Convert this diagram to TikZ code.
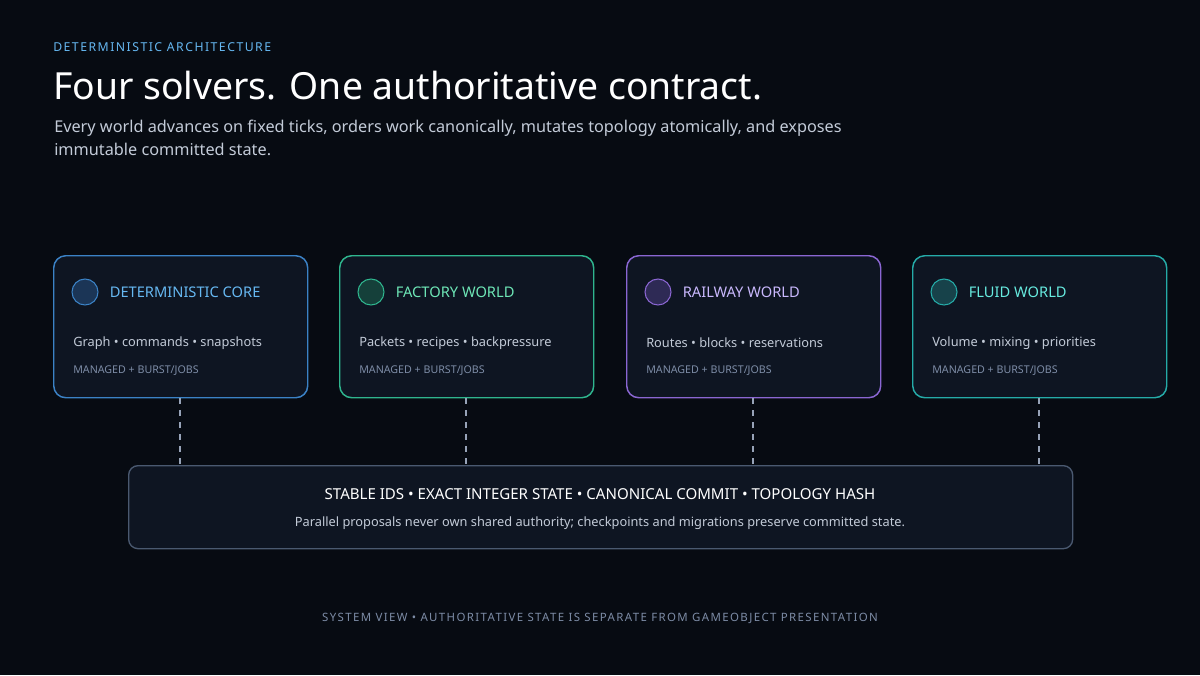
\documentclass[tikz,border=0pt]{standalone}
\usepackage{fontspec}
\setmainfont{Noto Sans}
\usetikzlibrary{positioning}
\definecolor{bgdark}{HTML}{070B12}
\definecolor{cardfill}{HTML}{0E1522}
\definecolor{coreline}{HTML}{3B82C6}
\definecolor{coretext}{HTML}{66B8F2}
\definecolor{corefill}{HTML}{1B3556}
\definecolor{factline}{HTML}{2FB58E}
\definecolor{facttext}{HTML}{6EE7B7}
\definecolor{factfill}{HTML}{15403A}
\definecolor{railline}{HTML}{8A66D2}
\definecolor{railtext}{HTML}{C9B8FD}
\definecolor{railfill}{HTML}{2E2A55}
\definecolor{fluidline}{HTML}{25ABA8}
\definecolor{fluidtext}{HTML}{67EBE0}
\definecolor{fluidfill}{HTML}{17424A}
\definecolor{bodytext}{HTML}{C3CBD8}
\definecolor{mutedtext}{HTML}{7D8CA6}
\definecolor{barline}{HTML}{4A5970}
\newcommand{\spaced}{\addfontfeatures{LetterSpace=12}}
\begin{document}
\begin{tikzpicture}[x=0.75pt,y=-0.75pt,
    card/.style={draw, line width=1.1pt, fill=cardfill, rounded corners=9pt,
      minimum width=254*0.75pt, minimum height=142*0.75pt, anchor=north west},
    dot/.style={circle, draw, line width=0.8pt, minimum size=26*0.75pt, inner sep=0pt},
    cardtitle/.style={anchor=west, font=\bfseries\fontsize{11}{13}\selectfont, inner sep=0pt},
    cardbody/.style={anchor=west, text=bodytext, font=\fontsize{9.6}{12}\selectfont, inner sep=0pt},
    cardtag/.style={anchor=west, text=mutedtext, font=\bfseries\fontsize{8}{10}\selectfont, inner sep=0pt},
    link/.style={draw=mutedtext!80, line width=1.3pt, dash pattern=on 4.5pt off 4.5pt}
]
\fill[bgdark] (0,0) rectangle (1200,675);
\useasboundingbox (0,0) rectangle (1200,675);

% Heading
\node[anchor=west, inner sep=0pt, text=coretext, font=\bfseries\fontsize{9.2}{11}\selectfont\spaced] (kicker) at (53,47) {DETERMINISTIC ARCHITECTURE};
\node[anchor=west, inner sep=0pt, text=white, font=\bfseries\fontsize{28}{32}\selectfont] (title) at (53,86) {Four solvers. One authoritative contract.};
\node[anchor=north west, inner sep=0pt, text=bodytext, align=left, font=\fontsize{12.2}{17.3}\selectfont] (lead) at (54,120)
  {Every world advances on fixed ticks, orders work canonically, mutates topology atomically, and exposes\\immutable committed state.};

% Solver cards
\foreach \x/\name/\ttl/\body/\clr in {
    53/core/DETERMINISTIC CORE/Graph • commands • snapshots/core,
    339/factory/FACTORY WORLD/Packets • recipes • backpressure/fact,
    626/railway/RAILWAY WORLD/Routes • blocks • reservations/rail,
    912/fluid/FLUID WORLD/Volume • mixing • priorities/fluid} {
  \node[card, draw=\clr line] (\name) at (\x,255) {};
  \node[dot, draw=\clr line, fill=\clr fill] (\name-dot) at (\x+32,292) {};
  \node[cardtitle, text=\clr text, right=11*0.75pt of \name-dot] (\name-title) {\ttl};
  \node[cardbody] (\name-body) at (\x+20,343) {\body};
  \node[cardtag] (\name-tag) at (\x+20,371) {MANAGED + BURST/JOBS};
}

% Shared contract bar
\node[draw=barline, line width=1pt, fill=cardfill, rounded corners=7pt, anchor=north west,
  minimum width=944*0.75pt, minimum height=83*0.75pt] (contract) at (128,465) {};
\node[text=white, inner sep=0pt, font=\bfseries\fontsize{11.3}{13}\selectfont] (contract-title) at (600,494)
  {STABLE IDS • EXACT INTEGER STATE • CANONICAL COMMIT • TOPOLOGY HASH};
\node[text=bodytext, inner sep=0pt, font=\fontsize{9.6}{12}\selectfont] (contract-body) at (600,523)
  {Parallel proposals never own shared authority; checkpoints and migrations preserve committed state.};

% Links
\foreach \name/\x in {core/180, factory/466, railway/753, fluid/1039}
  \draw[link] (\name.south -| \x,0) -- (contract.north -| \x,0);

% Footer
\node[text=mutedtext, inner sep=0pt, font=\bfseries\fontsize{8.6}{10}\selectfont\spaced] (footer) at (600,618)
  {SYSTEM VIEW • AUTHORITATIVE STATE IS SEPARATE FROM GAMEOBJECT PRESENTATION};
\end{tikzpicture}
\end{document}
